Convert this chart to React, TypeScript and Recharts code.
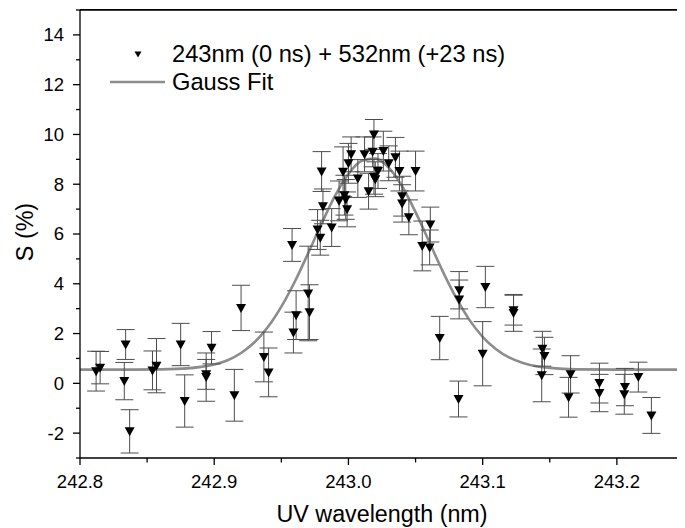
import React from 'react';
import { ComposedChart, Scatter, Line, XAxis, YAxis, ErrorBar, Legend, Label, ReferenceLine } from 'recharts';

// Measured points: UV wavelength (nm), signal S (%), error (%)
const wavelengths = [
  242.812, 242.815, 242.834, 242.833, 242.837, 242.854, 242.857, 242.875, 242.878, 242.894,
  242.894, 242.898, 242.920, 242.915, 242.937, 242.9405, 242.959, 242.961, 242.958, 242.970,
  242.971, 242.980, 242.981, 242.977, 242.979, 242.9875, 242.993, 242.996, 242.997, 242.998,
  242.999, 243.000, 243.002, 243.007, 243.012, 243.015, 243.018, 243.019, 243.019, 243.020,
  243.022, 243.026, 243.030, 243.035, 243.038, 243.040, 243.040, 243.045, 243.050, 243.055,
  243.061, 243.0605, 243.068, 243.0825, 243.0825, 243.082, 243.102, 243.100, 243.123, 243.123,
  243.1445, 243.146, 243.144, 243.1655, 243.164, 243.187, 243.187, 243.206, 243.2055, 243.216,
  243.2257,
];
const signal = [
  0.49, 0.63, 1.56, 0.09, -1.93, 0.52, 0.71, 1.56, -0.71, 0.36,
  0.25, 1.43, 3.03, -0.48, 1.06, 0.44, 2.04, 2.74, 5.56, 3.61,
  2.86, 8.51, 7.11, 6.18, 5.85, 6.26, 7.33, 8.5, 7.56, 7.39,
  6.99, 8.84, 9.2, 8.23, 9.2, 7.72, 9.3, 10.0, 8.3, 8.2,
  8.53, 9.33, 8.84, 9.08, 8.53, 7.52, 7.23, 6.67, 8.53, 5.52,
  6.38, 5.46, 1.82, 3.74, 3.37, -0.63, 3.87, 1.19, 2.94, 2.83,
  1.39, 1.1, 0.32, 0.36, -0.56, 0.01, -0.39, -0.15, -0.44, 0.25,
  -1.29,
];
const signalErr = [
  0.8, 0.65, 0.6, 0.75, 0.87, 0.78, 1.09, 0.85, 1.05, 0.6,
  0.97, 0.65, 0.91, 1.04, 1.0, 0.98, 0.82, 0.98, 0.66, 1.9,
  1.1, 0.8, 0.7, 0.8, 0.7, 0.76, 0.8, 1.0, 0.8, 0.8,
  0.7, 0.8, 0.7, 0.76, 0.7, 0.72, 0.6, 0.6, 0.7, 0.7,
  0.7, 0.8, 0.7, 0.8, 0.8, 0.8, 0.75, 0.7, 0.8, 1.0,
  0.7, 0.7, 0.87, 0.75, 0.78, 0.72, 0.83, 1.29, 0.6, 0.74,
  0.7, 0.75, 1.06, 0.75, 0.8, 0.8, 0.75, 0.75, 0.8, 0.6,
  0.72,
];

// Gauss fit curve
const fitWavelengths = [
  242.8, 242.84, 242.86, 242.88, 242.89, 242.9, 242.91, 242.92, 242.93, 242.94,
  242.95, 242.96, 242.97, 242.98, 242.99, 243.0, 243.01, 243.02, 243.03, 243.04,
  243.05, 243.06, 243.07, 243.08, 243.09, 243.1, 243.11, 243.12, 243.13, 243.14,
  243.15, 243.17, 243.2, 243.25,
];
const fitSignal = [
  0.55, 0.55, 0.56, 0.6, 0.66, 0.76, 0.93, 1.22, 1.65, 2.26,
  3.08, 4.08, 5.23, 6.42, 7.53, 8.41, 8.94, 9.03, 8.67, 7.92,
  6.88, 5.71, 4.53, 3.46, 2.56, 1.87, 1.37, 1.03, 0.82, 0.69,
  0.62, 0.56, 0.55, 0.55,
];

const xTicks = [242.8, 242.85, 242.9, 242.95, 243.0, 243.05, 243.1, 243.15, 243.2, 243.25];
const xTickLabels = [242.8, 242.9, 243.0, 243.1, 243.2];
const yTicks = [-3, -2, -1, 0, 1, 2, 3, 4, 5, 6, 7, 8, 9, 10, 11, 12, 13, 14, 15];
const yTickLabels = [-2, 0, 2, 4, 6, 8, 10, 12, 14];
const xDomain = [242.8, 243.25];
const yDomain = [-3, 15];

const seriesName = '243nm (0 ns) + 532nm (+23 ns)';
const fitName = 'Gauss Fit';
const xTitle = 'UV wavelength (nm)';
const yTitle = 'S (%)';

const points = wavelengths.map((x, i) => ({ x, y: signal[i], err: signalErr[i] }));
const fitPoints = fitWavelengths.map((x, i) => ({ x, y: fitSignal[i] }));

const FONT = "Arial, 'Liberation Sans', sans-serif";
const CHART_W = 677;
const CHART_H = 520;
const MARGIN = { top: 2, right: 1, bottom: 0, left: 0 };
const Y_AXIS_W = 72;
const X_AXIS_H = 70;
const M = 4;
const isIn = (arr: number[], v: number) => arr.some((t) => Math.abs(t - v) < 1e-6);

const BottomTick = (props: any) => {
  const { x, y, payload } = props;
  const v = payload.value;
  const major = isIn(xTickLabels, v);
  const ay = y - M;
  return (
    <g>
      <line x1={x} x2={x} y1={ay} y2={ay + (major ? 7 : 4.5)} stroke="#000" strokeWidth={1.3} />
      {major && (
        <text x={x} y={ay + 30} textAnchor="middle" fontSize={18.5} fontFamily={FONT} fill="#000">
          {v.toFixed(1)}
        </text>
      )}
    </g>
  );
};

const LeftTick = (props: any) => {
  const { x, y, payload } = props;
  const v = payload.value;
  const major = isIn(yTickLabels, v);
  const ax = x + M;
  return (
    <g>
      <line x1={ax} x2={ax - (major ? 7 : 4)} y1={y} y2={y} stroke="#000" strokeWidth={1.3} />
      {major && (
        <text x={ax - 16} y={y} dy="0.35em" textAnchor="end" fontSize={18.5} fontFamily={FONT} fill="#000">
          {v}
        </text>
      )}
    </g>
  );
};

const TriangleDown = (props: any) => {
  const { cx, cy } = props;
  if (cx == null || cy == null) return null;
  return (
    <polygon
      points={`${cx - 5},${cy - 4} ${cx + 5},${cy - 4} ${cx},${cy + 5}`}
      fill="#000"
    />
  );
};

const LegendContent = () => (
  <svg width={440} height={66} style={{ display: 'block' }}>
    <polygon points="34.5,21.5 41.5,21.5 38,27.5" fill="#000" />
    <text x={72} y={32} fontSize={23.7} fontFamily={FONT} fill="#000">{seriesName}</text>
    <line x1={10} x2={65} y1={52} y2={52} stroke="#8c8c8c" strokeWidth={2.6} />
    <text x={72} y={60} fontSize={23.7} fontFamily={FONT} fill="#000">{fitName}</text>
  </svg>
);

export default function App() {
  const plotLeft = MARGIN.left + Y_AXIS_W;
  const plotTop = MARGIN.top;
  const plotW = CHART_W - MARGIN.right - plotLeft;
  const plotH = CHART_H - MARGIN.bottom - X_AXIS_H - plotTop;
  return (
    <div style={{ position: 'relative', width: CHART_W, height: CHART_H, background: '#fff' }}>
      <ComposedChart width={CHART_W} height={CHART_H} margin={MARGIN} style={{ fontFamily: FONT }}>
        <XAxis
          type="number"
          dataKey="x"
          domain={xDomain}
          ticks={xTicks}
          interval={0}
          height={X_AXIS_H}
          tickSize={0}
          tickMargin={M}
          tickLine={false}
          axisLine={{ stroke: '#000', strokeWidth: 1.3 }}
          tick={<BottomTick />}
        >
          <Label
            content={(p: any) => {
              const vb = p.viewBox || {};
              return (
                <text
                  x={vb.x + vb.width / 2}
                  y={vb.y + 64}
                  textAnchor="middle"
                  fontSize={23.3}
                  fontFamily={FONT}
                  fill="#000"
                >
                  {xTitle}
                </text>
              );
            }}
          />
        </XAxis>
        <YAxis
          type="number"
          domain={yDomain}
          ticks={yTicks}
          interval={0}
          width={Y_AXIS_W}
          tickSize={0}
          tickMargin={M}
          tickLine={false}
          axisLine={{ stroke: '#000', strokeWidth: 1.3 }}
          tick={<LeftTick />}
        >
          <Label
            content={(p: any) => {
              const vb = p.viewBox || {};
              const cx = vb.x + 17;
              const cy = vb.y + vb.height / 2 - 2;
              return (
                <text
                  x={cx}
                  y={cy}
                  dy="0.35em"
                  transform={`rotate(-90, ${cx}, ${cy})`}
                  textAnchor="middle"
                  fontSize={23.3}
                  fontFamily={FONT}
                  fill="#000"
                >
                  {yTitle}
                </text>
              );
            }}
          />
        </YAxis>
        <ReferenceLine y={yDomain[1]} stroke="#000" strokeWidth={1.3} ifOverflow="visible" />
        <ReferenceLine x={xDomain[1]} stroke="#000" strokeWidth={1.3} ifOverflow="visible" />
        <Legend
          layout="vertical"
          align="center"
          verticalAlign="middle"
          content={<LegendContent />}
          wrapperStyle={{ left: 92, top: 22, width: 440, height: 66 }}
        />
        <Line
          data={fitPoints}
          dataKey="y"
          type="monotone"
          dot={false}
          stroke="#8c8c8c"
          strokeWidth={2.6}
          isAnimationActive={false}
          name={fitName}
        />
        <Scatter
          data={points}
          dataKey="y"
          shape={<TriangleDown />}
          isAnimationActive={false}
          name={seriesName}
        >
          <ErrorBar dataKey="err" direction="y" width={9} stroke="#4d4d4d" strokeWidth={1} />
        </Scatter>
      </ComposedChart>
      {/* plot frame (top and right edges of the box) */}
      <div
        style={{
          position: 'absolute',
          left: plotLeft,
          top: plotTop - 0.6,
          width: plotW + 0.6,
          height: plotH,
          borderTop: '1.3px solid #000',
          borderRight: '1.3px solid #000',
          boxSizing: 'border-box',
          pointerEvents: 'none',
        }}
      />
    </div>
  );
}
